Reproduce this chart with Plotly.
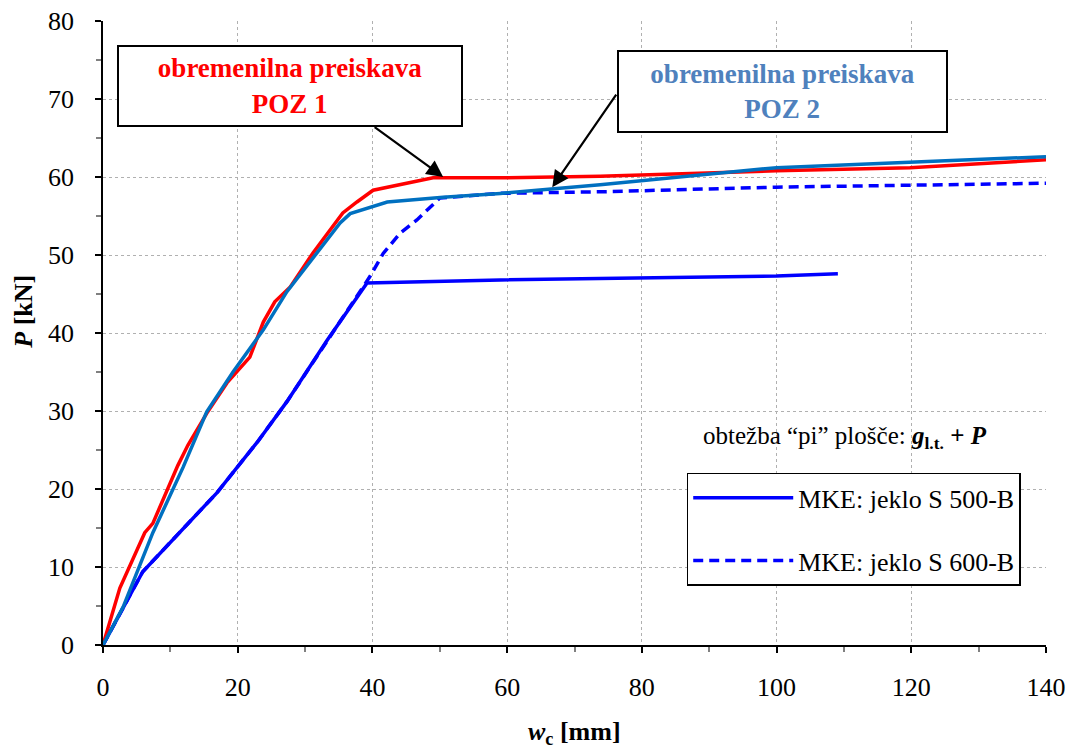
import plotly.graph_objects as go

# ---- data ----
poz1_x = [0, 2.5, 6.2, 7.4, 11.1, 12.6, 15.4, 18.4, 21.8, 23.8, 25.5, 27.8, 31.2, 34.1, 35.6, 37.7, 40.1, 49, 59, 73.8, 100, 119.8, 140]
poz1_y = [0, 7.3, 14.4, 15.6, 23, 25.6, 29.7, 33.6, 36.9, 41.4, 44, 45.9, 50.3, 53.7, 55.4, 56.8, 58.3, 59.9, 59.9, 60.1, 60.8, 61.2, 62.2]

poz2_x = [0, 3, 7.4, 11.9, 15.4, 19.3, 23.8, 27.3, 35.2, 36.7, 42.2, 50.5, 59, 73.8, 100, 140]
poz2_y = [0, 4.9, 14.4, 22.8, 29.9, 35, 40.4, 45.3, 54.1, 55.3, 56.8, 57.4, 57.9, 59.0, 61.2, 62.6]

s500_x = [0, 5.9, 16.9, 22.9, 27.3, 33.3, 39.2, 59, 100, 109.1]
s500_y = [0, 9.4, 19.5, 26, 31.2, 39.1, 46.4, 46.8, 47.3, 47.6]

s600_x = [0, 5.9, 16.9, 22.9, 27.3, 33.3, 39.6, 41.6, 44.1, 46.6, 50, 59, 73.8, 100, 140]
s600_y = [0, 9.4, 19.5, 26, 31.2, 39.1, 47.2, 50.2, 52.8, 54.5, 57.3, 57.9, 58.1, 58.7, 59.2]

x_ticks = [0, 20, 40, 60, 80, 100, 120, 140]
y_ticks = [0, 10, 20, 30, 40, 50, 60, 70, 80]

series_names = ["MKE: jeklo S 500-B", "MKE: jeklo S 600-B"]
box1_text = "obremenilna preiskava<br>POZ 1"
box2_text = "obremenilna preiskava<br>POZ 2"
arrow1_target = (50.5, 60.0)
arrow2_target = (66.7, 58.7)

FONT = "Liberation Serif, Times New Roman, serif"

fig = go.Figure()
fig.add_trace(go.Scatter(x=s500_x, y=s500_y, mode="lines", name=series_names[0],
                         line=dict(color="#0000FF", width=3.5), legendgroup="a"))
fig.add_trace(go.Scatter(x=s600_x, y=s600_y, mode="lines", name=series_names[1],
                         line=dict(color="#0000FF", width=3.5, dash="10px,6px"), legendgroup="b"))
fig.add_trace(go.Scatter(x=poz1_x, y=poz1_y, mode="lines", showlegend=False,
                         line=dict(color="#FF0000", width=3.5)))
fig.add_trace(go.Scatter(x=poz2_x, y=poz2_y, mode="lines", showlegend=False,
                         line=dict(color="#0070C0", width=3.5)))

axis_common = dict(
    showline=True, linecolor="black", linewidth=1.5,
    ticks="outside", ticklen=6, tickcolor="black", tickwidth=1.5,
    showgrid=True, gridcolor="#B0B0B0", griddash="dot", gridwidth=1,
    zeroline=False, tickfont=dict(family=FONT, size=26, color="black"),
    automargin=False,
)

fig.update_xaxes(range=[0, 140], tickvals=x_ticks, ticklabelstandoff=12,
                 minor=dict(dtick=10, ticks="outside", ticklen=5, tickcolor="#808080", showgrid=False),
                 **axis_common)
fig.update_yaxes(range=[0, 80], tickvals=y_ticks, ticklabelstandoff=16,
                 minor=dict(dtick=5, ticks="outside", ticklen=5, tickcolor="#808080", showgrid=False),
                 **axis_common)

annotations = [
    # arrows
    dict(x=arrow1_target[0], y=arrow1_target[1], xref="x", yref="y", ax=-70, ay=-51,
         text="", showarrow=True, arrowhead=2, arrowsize=1.5, arrowwidth=2.2, arrowcolor="black"),
    dict(x=arrow2_target[0], y=arrow2_target[1], xref="x", yref="y", ax=65, ay=-94,
         text="", showarrow=True, arrowhead=2, arrowsize=1.5, arrowwidth=2.2, arrowcolor="black"),
    # boxes
    dict(x=0.198, y=0.896, xref="paper", yref="paper", xanchor="center", yanchor="middle",
         text="<b>" + box1_text + "</b>",
         showarrow=False, font=dict(family=FONT, size=27, color="#FF0000"),
         bgcolor="white", bordercolor="black", borderwidth=2, width=342, height=78, borderpad=0),
    dict(x=0.7206, y=0.887, xref="paper", yref="paper", xanchor="center", yanchor="middle",
         text="<b>" + box2_text + "</b>",
         showarrow=False, font=dict(family=FONT, size=27, color="#4F81BD"),
         bgcolor="white", bordercolor="black", borderwidth=2, width=327, height=79, borderpad=0),
    # load description
    dict(x=0.787, y=0.332, xref="paper", yref="paper", xanchor="center", yanchor="middle",
         text="obtežba “pi” plošče: <b><i>g</i><sub>l.t.</sub> + <i>P</i></b>",
         showarrow=False, font=dict(family=FONT, size=25, color="black")),
    # axis titles
    dict(x=-0.0838, y=0.534, xref="paper", yref="paper", xanchor="center", yanchor="middle",
         text="<b><i>P</i> [kN]</b>",
         textangle=-90, showarrow=False, font=dict(family=FONT, size=26, color="black")),
    dict(x=0.5, y=-0.141, xref="paper", yref="paper", xanchor="center", yanchor="middle",
         text="<b><i>w</i><sub>c</sub> [mm]</b>",
         showarrow=False, font=dict(family=FONT, size=26, color="black")),
]

fig.update_layout(
    width=1068, height=749,
    margin=dict(l=103, r=22, t=21, b=104),
    plot_bgcolor="white", paper_bgcolor="white",
    font=dict(family=FONT, color="black"),
    annotations=annotations,
    legend=dict(x=0.619, y=0.276, xanchor="left", yanchor="top",
                bordercolor="black", borderwidth=1.5, bgcolor="white",
                font=dict(family=FONT, size=26, color="black"),
                tracegroupgap=26, traceorder="grouped", itemwidth=100),
)

fig.write_html("out.html")
